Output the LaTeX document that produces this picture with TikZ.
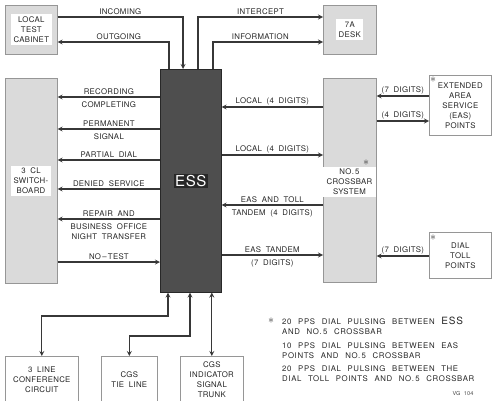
\documentclass[tikz,border=0pt]{standalone}
\usepackage{fontspec}
\setmainfont{TeX Gyre Heros}[LetterSpace=4, WordSpace=1.9]
\newfontfamily\lletraLleg{TeX Gyre Heros}[LetterSpace=8, WordSpace=2.4]
\usetikzlibrary{arrows}
\definecolor{grisCaixa}{RGB}{218,218,218}
\definecolor{grisESS}{RGB}{78,78,78}
\definecolor{grisFosc}{RGB}{40,40,40}
\definecolor{grisLinia}{RGB}{55,55,55}
\definecolor{grisVora}{RGB}{150,150,150}
\tikzstyle{lletra} = [font=\fontsize{7.8}{10}\selectfont, text=black!85]
\tikzstyle{lletraLlegenda} = [font=\lletraLleg\fontsize{7.8}{10}\selectfont, text=black!85]
\tikzstyle{caixaGris} = [rectangle, anchor=north west, draw=grisVora, fill=grisCaixa, line width=0.6pt, inner sep=0]
\tikzstyle{caixaBlanca} = [rectangle, anchor=north west, draw=grisVora, fill=white, line width=0.6pt, align=center, lletra]
\tikzstyle{caixaESS} = [rectangle, anchor=north west, draw=grisFosc, fill=grisESS, line width=0.6pt]
\tikzstyle{textBlanc} = [fill=white, align=center, inner sep=2.5pt, lletra]
\tikzstyle{sobre} = [lletra, above, inner sep=1.5pt]
\tikzstyle{sota} = [lletra, below, inner sep=1.5pt, yshift=-2.5pt]
\tikzstyle{asterisc} = [font=\fontsize{12}{12}\selectfont, text=black!75, inner sep=0]
\tikzstyle{arrow} = [line width=1.2pt, draw=grisLinia, ->, >=stealth]
\tikzstyle{arrowDoble} = [line width=1.2pt, draw=grisLinia, <->, >=stealth]

\begin{document}
\begin{tikzpicture}[x=1pt, y=-1pt]
	\useasboundingbox (0,0) rectangle (492,401);
	
	% Caixes del diagrama
	\node (armari) [caixaGris, minimum width=52pt, minimum height=49pt] at (5,5) {};
	\node (escriptori) [caixaGris, minimum width=53pt, minimum height=49pt] at (323,5) {};
	\node (centraleta) [caixaGris, minimum width=52pt, minimum height=205pt] at (5,78) {};
	\node (ess) [caixaESS, minimum width=61pt, minimum height=223pt] at (160,69) {};
	\node (crossbar) [caixaGris, minimum width=53pt, minimum height=204pt] at (323,78) {};
	\node (puntsEAS) [caixaBlanca, minimum width=62pt, minimum height=60pt] at (429,75) {EXTENDED\\AREA\\SERVICE\\(EAS)\\POINTS};
	\node (puntsToll) [caixaBlanca, minimum width=62pt, minimum height=46pt] at (429,232) {DIAL\\TOLL\\POINTS};
	\node (conferencia) [caixaBlanca, minimum width=73pt, minimum height=46pt] at (5,356) {3 LINE\\CONFERENCE\\CIRCUIT};
	\node (liniaCGS) [caixaBlanca, minimum width=56pt, minimum height=46pt] at (101,356) {CGS\\TIE LINE};
	\node (troncCGS) [caixaBlanca, minimum width=63pt, minimum height=46pt] at (180,356) {CGS\\INDICATOR\\SIGNAL\\TRUNK};
	
	% Textos sobre fons blanc (i el de l'ESS)
	\node (textArmari) [textBlanc] at (armari.center) {LOCAL\\TEST\\CABINET};
	\node (textEscriptori) [textBlanc] at (escriptori.center) {7A\\DESK};
	\node (textCentraleta) [textBlanc] at (31,181) {3 CL\\SWITCH-\\BOARD};
	\node (textCrossbar) [textBlanc, minimum width=53pt] at (349.5,182) {NO.\,5\\CROSSBAR\\SYSTEM};
	\node (textESS) [fill=grisFosc, text=white, inner sep=1.5pt, font=\fontsize{15}{15}\selectfont] at (ess.center) {ESS};
	
	% Asteriscs
	\node (ast1) [asterisc] at (366,163) {$\ast$};
	\node (ast2) [asterisc] at (433,80) {$\ast$};
	\node (ast3) [asterisc] at (433,238) {$\ast$};
	\node (ast4) [asterisc] at (271,321) {$\ast$};
	
	% Llegenda
	\node (llegenda1) [lletraLlegenda, anchor=north west, align=left, inner sep=0] at (282,317) {20 PPS DIAL PULSING BETWEEN {\fontsize{10}{10}\selectfont ESS}\\AND NO.\,5 CROSSBAR};
	\node (llegenda2) [lletraLlegenda, anchor=north west, align=left, inner sep=0] at (282,342) {10 PPS DIAL PULSING BETWEEN EAS\\POINTS AND NO.\,5 CROSSBAR};
	\node (llegenda3) [lletraLlegenda, anchor=north west, align=left, inner sep=0] at (282,365) {20 PPS DIAL PULSING BETWEEN THE\\DIAL TOLL POINTS AND NO.\,5 CROSSBAR};
	\node (codi) [font=\fontsize{5.5}{6}\selectfont, text=black!70] at (463,393) {VG 104};
	
	% Punts de pas i nivells de les fletxes
	\coordinate (cIncoming) at (183,17);
	\coordinate (cOutgoing) at (169,42);
	\coordinate (cIntercept) at (198,17);
	\coordinate (cInformation) at (213,42);
	\coordinate (fRecording) at (0,97);
	\coordinate (fPermanent) at (0,129);
	\coordinate (fPartial) at (0,160);
	\coordinate (fDenied) at (0,189);
	\coordinate (fRepair) at (0,219);
	\coordinate (fNoTest) at (0,262);
	\coordinate (fLocal1) at (0,107);
	\coordinate (fLocal2) at (0,155);
	\coordinate (fEASToll) at (0,205);
	\coordinate (fEASTandem) at (0,255);
	\coordinate (fSet1) at (0,96);
	\coordinate (fQuatre) at (0,121);
	\coordinate (fSet2) at (0,256);
	\coordinate (cConf1) at (168,316);
	\coordinate (cConf2) at (conferencia.north |- cConf1);
	\coordinate (cTie1) at (190,336);
	\coordinate (cTie2) at (liniaCGS.north |- cTie1);
	
	% Fletxes de dalt
	\draw [arrow] (armari.east |- cIncoming) -- node[sobre] {INCOMING} (cIncoming) -- (ess.north -| cIncoming);
	\draw [arrow] (ess.north -| cOutgoing) -- (cOutgoing) -- node[sobre, pos=0.45] {OUTGOING} (armari.east |- cOutgoing);
	\draw [arrow] (ess.north -| cIntercept) -- (cIntercept) -- node[sobre] {INTERCEPT} (escriptori.west |- cIntercept);
	\draw [arrow] (ess.north -| cInformation) -- (cInformation) -- node[sobre, pos=0.43] {INFORMATION} (escriptori.west |- cInformation);
	
	% Fletxes cap a la centraleta
	\draw [arrow] (ess.west |- fRecording) -- (centraleta.east |- fRecording) node[sobre, midway] {RECORDING} node[sota, midway] {COMPLETING};
	\draw [arrow] (ess.west |- fPermanent) -- (centraleta.east |- fPermanent) node[sobre, midway] {PERMANENT} node[sota, midway] {SIGNAL};
	\draw [arrow] (ess.west |- fPartial) -- (centraleta.east |- fPartial) node[sobre, midway] {PARTIAL DIAL};
	\draw [arrow] (ess.west |- fDenied) -- (centraleta.east |- fDenied) node[sobre, midway] {DENIED SERVICE};
	\draw [arrow] (ess.west |- fRepair) -- (centraleta.east |- fRepair) node[sobre, midway] {REPAIR AND} node[sota, midway, align=center] {BUSINESS OFFICE\\NIGHT TRANSFER};
	\draw [arrow] (centraleta.east |- fNoTest) -- (ess.west |- fNoTest) node[sobre, midway] {NO\,--\,TEST};
	
	% Fletxes amb el crossbar
	\draw [arrow] (crossbar.west |- fLocal1) -- (ess.east |- fLocal1) node[sobre, midway] {LOCAL (4 DIGITS)};
	\draw [arrow] (ess.east |- fLocal2) -- (crossbar.west |- fLocal2) node[sobre, midway] {LOCAL (4 DIGITS)};
	\draw [arrow] (crossbar.west |- fEASToll) -- (ess.east |- fEASToll) node[sobre, midway] {EAS AND TOLL} node[sota, midway] {TANDEM (4 DIGITS)};
	\draw [arrow] (ess.east |- fEASTandem) -- (crossbar.west |- fEASTandem) node[sobre, midway] {EAS TANDEM} node[sota, midway] {(7 DIGITS)};
	
	% Fletxes amb els punts EAS i toll
	\draw [arrow] (puntsEAS.west |- fSet1) -- (crossbar.east |- fSet1) node[sobre, midway] {(7 DIGITS)};
	\draw [arrow] (crossbar.east |- fQuatre) -- (puntsEAS.west |- fQuatre) node[sobre, midway] {(4 DIGITS)};
	\draw [arrow] (puntsToll.west |- fSet2) -- (crossbar.east |- fSet2) node[sobre, midway] {(7 DIGITS)};
	
	% Fletxes de baix
	\draw [arrowDoble] (ess.south -| cConf1) -- (cConf1) -- (cConf2) -- (conferencia.north);
	\draw [arrowDoble] (ess.south -| cTie1) -- (cTie1) -- (cTie2) -- (liniaCGS.north);
	\draw [arrowDoble] (ess.south -| troncCGS.north) -- (troncCGS.north);
	
\end{tikzpicture}
\end{document}
